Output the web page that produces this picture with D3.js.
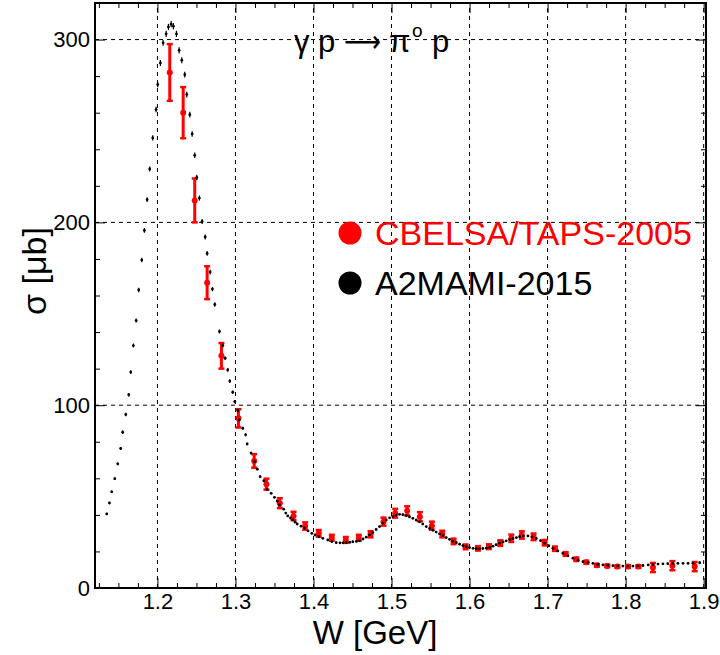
<!DOCTYPE html>
<html>
<head>
<meta charset="utf-8">
<script src="https://cdn.jsdelivr.net/npm/d3@7"></script>
<style>
  body { margin: 0; background: #fff; }
  svg { display: block; font-family: "Liberation Sans", Arial, sans-serif; }
</style>
</head>
<body>
<svg id="chart" width="720" height="655"></svg>
<script>
// A2MAMI-2015 (black)
const mamiW = [
  1.135, 1.1385, 1.1414, 1.1453, 1.1491, 1.1529, 1.1555, 1.1594, 1.1632, 1.1658,
  1.1692, 1.1727, 1.176, 1.1799, 1.1833, 1.1868, 1.1901, 1.194, 1.1983, 1.2004,
  1.2038, 1.2073, 1.2112, 1.2141, 1.2176, 1.2205, 1.2244, 1.2278, 1.2312, 1.235,
  1.2376, 1.2415, 1.2445, 1.2478, 1.2504, 1.2538, 1.2573, 1.2612, 1.2637, 1.2676,
  1.2705, 1.2735, 1.2795, 1.2838, 1.2868, 1.2901, 1.2927, 1.2965, 1.2991, 1.3029,
  1.305, 1.3094, 1.313, 1.315, 1.32, 1.3244, 1.328, 1.3317, 1.3363, 1.3406,
  1.3458, 1.35, 1.3535, 1.3564, 1.3619, 1.3645, 1.367, 1.3705, 1.3735, 1.3765,
  1.3791, 1.384, 1.3885, 1.393, 1.3978, 1.402, 1.4068, 1.412, 1.4183, 1.4235,
  1.4291, 1.434, 1.438, 1.442, 1.4465, 1.4504, 1.455, 1.459, 1.4635, 1.4676,
  1.4718, 1.476, 1.4803, 1.4846, 1.489, 1.4932, 1.4975, 1.5017, 1.506, 1.5103,
  1.5145, 1.5188, 1.523, 1.5273, 1.5316, 1.5359, 1.54, 1.5445, 1.5488, 1.553,
  1.5572, 1.5615, 1.566, 1.5701, 1.5743, 1.5786, 1.583, 1.5872, 1.5915, 1.5958,
  1.6, 1.6045, 1.6085, 1.6128, 1.617, 1.6215, 1.6256, 1.63, 1.634, 1.6385,
  1.643, 1.647, 1.6513, 1.6555, 1.66, 1.6641, 1.669, 1.6748, 1.68, 1.6855,
  1.691, 1.6962, 1.7015, 1.7068, 1.713, 1.7196, 1.726, 1.7324, 1.739, 1.7453,
  1.752, 1.7581, 1.7645, 1.7709, 1.7773, 1.7837, 1.79, 1.7965, 1.803, 1.8094,
  1.8158, 1.8222, 1.829, 1.835, 1.8415, 1.8478, 1.854, 1.8606, 1.867, 1.8735,
  1.88, 1.8863, 1.8949
];
const mamiSigma = [
  40.5, 46.5, 52.6, 59.8, 67.9, 76.3, 85.2, 94.9, 105.7, 118.1,
  132.6, 146.3, 163.0, 179.4, 195.6, 212.4, 229.2, 246.2, 261.7, 275.4,
  287.2, 298.2, 303.1, 306.9, 308.4, 307.3, 303.1, 294.1, 288.7, 280.8,
  269.9, 258.9, 248.4, 236.7, 224.6, 213.3, 200.5, 192.0, 183.0, 172.8,
  163.5, 155.1, 140.3, 132.6, 125.7, 119.3, 113.2, 107.1, 102.0, 97.1,
  92.0, 87.4, 83.8, 78.8, 73.8, 69.1, 65.0, 60.9, 58.6, 54.0,
  51.8, 49.6, 47.6, 45.4, 43.1, 41.0, 39.4, 38.3, 37.2, 36.0,
  35.0, 33.8, 32.7, 31.2, 29.9, 29.0, 28.1, 27.2, 26.3, 25.4,
  24.8, 24.7, 24.7, 24.8, 25.0, 25.3, 25.5, 25.8, 26.8, 27.8,
  29.0, 30.3, 32.0, 33.6, 35.5, 37.2, 38.4, 39.0, 39.8, 40.3,
  40.1, 39.6, 38.9, 38.1, 37.2, 36.2, 35.0, 33.6, 32.6, 31.6,
  30.6, 29.6, 28.6, 27.6, 26.6, 25.6, 24.8, 24.0, 23.2, 22.6,
  22.1, 21.7, 21.5, 21.4, 21.6, 21.8, 22.2, 22.9, 23.7, 24.5,
  25.2, 25.8, 26.4, 27.0, 27.6, 28.1, 28.4, 28.5, 28.0, 27.1,
  25.9, 24.5, 23.1, 21.7, 20.3, 19.0, 17.6, 16.3, 15.2, 14.4,
  13.9, 13.5, 13.0, 12.6, 12.4, 12.2, 12.1, 12.0, 12.0, 12.0,
  12.1, 12.3, 12.6, 12.9, 13.1, 13.2, 13.3, 13.4, 13.5, 13.5,
  13.5, 13.6, 13.8
];
const mamiErr = [
  0.6, 0.6, 0.7, 0.7, 0.8, 0.8, 0.9, 0.9, 1.0, 1.0,
  1.1, 1.1, 1.2, 1.2, 1.3, 1.3, 1.4, 1.4, 1.5, 1.5,
  1.6, 1.6, 1.7, 1.7, 1.7, 1.7, 1.7, 1.7, 1.6, 1.6,
  1.6, 1.6, 1.5, 1.5, 1.5, 1.4, 1.4, 1.4, 1.3, 1.3,
  1.2, 1.2, 1.1, 1.1, 1.0, 1.0, 1.0, 0.9, 0.9, 0.9,
  0.8, 0.8, 0.8, 0.7, 0.7, 0.7, 0.6, 0.6, 0.6, 0.6,
  0.5, 0.5, 0.5, 0.5, 0.5, 0.5, 0.5, 0.5, 0.5, 0.5,
  0.5, 0.5, 0.5, 0.5, 0.5, 0.5, 0.5, 0.5, 0.5, 0.5,
  0.5, 0.5, 0.5, 0.5, 0.5, 0.5, 0.5, 0.5, 0.5, 0.5,
  0.5, 0.5, 0.5, 0.5, 0.5, 0.5, 0.5, 0.5, 0.5, 0.5,
  0.5, 0.5, 0.5, 0.5, 0.5, 0.5, 0.5, 0.5, 0.5, 0.5,
  0.5, 0.5, 0.5, 0.5, 0.5, 0.5, 0.5, 0.5, 0.5, 0.5,
  0.5, 0.5, 0.5, 0.5, 0.5, 0.5, 0.5, 0.5, 0.5, 0.5,
  0.5, 0.5, 0.5, 0.5, 0.5, 0.5, 0.5, 0.5, 0.5, 0.5,
  0.5, 0.5, 0.5, 0.5, 0.5, 0.5, 0.5, 0.5, 0.5, 0.5,
  0.5, 0.5, 0.5, 0.5, 0.5, 0.5, 0.5, 0.5, 0.5, 0.5,
  0.5, 0.5, 0.5, 0.5, 0.5, 0.5, 0.5, 0.5, 0.5, 0.5,
  0.5, 0.5, 0.5
];

// CBELSA/TAPS-2005 (red)
const cbW = [
  1.2158, 1.233, 1.2478, 1.2637, 1.282, 1.3038, 1.324, 1.3397, 1.3568, 1.3744,
  1.3893, 1.4068, 1.4235, 1.4414, 1.4581, 1.4731, 1.4897, 1.5047, 1.52, 1.5363,
  1.5517, 1.565, 1.5795, 1.5949, 1.6107, 1.6248, 1.6393, 1.6535, 1.667, 1.682,
  1.6962, 1.7094, 1.7231, 1.7368, 1.7496, 1.7632, 1.7765, 1.7894, 1.803, 1.8163,
  1.835, 1.8599, 1.8885
];
const cbSigma = [
  282, 260, 212, 167, 127, 92.8, 69.5, 56.8, 46.4, 39.4,
  33.9, 29.9, 27.5, 26.3, 27.5, 29.4, 36.3, 40.9, 42.2, 39.0,
  34.1, 29.5, 25.5, 22.5, 21.7, 22.6, 24.6, 27.2, 29.0, 28.0,
  24.8, 21.5, 18.6, 15.7, 14.1, 12.4, 12.1, 11.7, 11.7, 11.7,
  11.2, 12.2, 11.7
];
const cbErr = [
  15.5, 14, 12, 9, 7, 5, 3.7, 3, 2.7, 2.3,
  2, 1.8, 1.6, 1.6, 1.6, 1.7, 2.2, 2.4, 2.5, 2.5,
  2.2, 1.8, 1.5, 1.3, 1.2, 1.3, 1.5, 2.0, 2.0, 1.8,
  1.5, 1.2, 1.0, 0.9, 0.8, 0.7, 0.7, 0.7, 0.7, 0.7,
  2.5, 2.5, 2.5
];

const xTicks = [1.2, 1.3, 1.4, 1.5, 1.6, 1.7, 1.8, 1.9];
const yTicks = [0, 100, 200, 300];
const legendLabels = ["CBELSA/TAPS-2005", "A2MAMI-2015"];
const legendColors = ["#ff0000", "#000000"];

const pLeft = 95, pRight = 706, pTop = 3, pBottom = 588;
const x = d3.scaleLinear().domain([1.12, 1.903]).range([pLeft, pRight]);
const y = d3.scaleLinear().domain([0, 320]).range([pBottom, pTop]);

const svg = d3.select("#chart");
svg.append("rect").attr("width", 720).attr("height", 655).attr("fill", "#fff");

// grid
const grid = svg.append("g").attr("stroke", "#000").attr("stroke-width", 1).attr("stroke-dasharray", "4,4");
xTicks.forEach((t) => {
  grid.append("line").attr("x1", x(t)).attr("x2", x(t)).attr("y1", pBottom).attr("y2", pTop);
});
yTicks.filter((t) => t > 0).forEach((t) => {
  grid.append("line").attr("x1", pLeft).attr("x2", pRight).attr("y1", y(t)).attr("y2", y(t));
});

// axes: major + minor ticks on all four sides
const xMinor = d3.range(1.125, 1.9001, 0.025).filter((v) => !xTicks.some((t) => Math.abs(t - v) < 1e-6));
const yMinor = d3.range(20, 320, 20).filter((v) => v % 100 !== 0);

function addAxis(axis, transform, labels) {
  const g = svg.append("g").attr("transform", transform).call(axis);
  g.select(".domain").remove();
  g.selectAll("line").attr("stroke-width", 1);
  if (!labels) g.selectAll("text").remove();
  return g;
}

const xb = addAxis(d3.axisBottom(x).tickValues(xTicks).tickSize(-10).tickPadding(5).tickFormat(d3.format(".1f")), `translate(0,${pBottom})`, true);
xb.selectAll("text").attr("font-size", 22).attr("fill", "#000");
addAxis(d3.axisBottom(x).tickValues(xMinor).tickSize(-5), `translate(0,${pBottom})`, false);
addAxis(d3.axisTop(x).tickValues(xTicks).tickSize(-10), `translate(0,${pTop})`, false);
addAxis(d3.axisTop(x).tickValues(xMinor).tickSize(-5), `translate(0,${pTop})`, false);

const yl = addAxis(d3.axisLeft(y).tickValues(yTicks).tickSize(-10).tickPadding(5), `translate(${pLeft},0)`, true);
yl.selectAll("text").attr("font-size", 22).attr("fill", "#000");
addAxis(d3.axisLeft(y).tickValues(yMinor).tickSize(-5), `translate(${pLeft},0)`, false);
addAxis(d3.axisRight(y).tickValues(yTicks).tickSize(-10), `translate(${pRight},0)`, false);
addAxis(d3.axisRight(y).tickValues(yMinor).tickSize(-5), `translate(${pRight},0)`, false);

// frame
svg.append("rect").attr("x", pLeft).attr("y", pTop).attr("width", pRight - pLeft).attr("height", pBottom - pTop)
  .attr("fill", "none").attr("stroke", "#000").attr("stroke-width", 2);

// CBELSA points
const cb = cbW.map((w, i) => ({ w, s: cbSigma[i], e: cbErr[i] }));
const red = svg.append("g").attr("stroke", "#ff0000").attr("fill", "#ff0000");
cb.forEach((d) => {
  const cx = x(d.w);
  red.append("line").attr("x1", cx).attr("x2", cx).attr("y1", y(d.s - d.e)).attr("y2", y(d.s + d.e)).attr("stroke-width", 3);
  [d.s - d.e, d.s + d.e].forEach((v) => {
    red.append("line").attr("x1", cx - 3).attr("x2", cx + 3).attr("y1", y(v)).attr("y2", y(v)).attr("stroke-width", 2.5);
  });
  red.append("circle").attr("cx", cx).attr("cy", y(d.s)).attr("r", 3).attr("stroke", "none");
});

// MAMI points
const mami = mamiW.map((w, i) => ({ w, s: mamiSigma[i], e: mamiErr[i] }));
const blk = svg.append("g").attr("stroke", "#000").attr("fill", "#000");
mami.forEach((d) => {
  const cx = x(d.w);
  blk.append("line").attr("x1", cx).attr("x2", cx).attr("y1", y(d.s - d.e)).attr("y2", y(d.s + d.e)).attr("stroke-width", 1.2);
  blk.append("circle").attr("cx", cx).attr("cy", y(d.s)).attr("r", 1.4).attr("stroke", "none");
});

// axis titles
svg.append("text").attr("x", 375).attr("y", 644).attr("text-anchor", "middle").attr("font-size", 33).text("W [GeV]");
svg.append("text").attr("transform", "translate(46,271) rotate(-90)").attr("text-anchor", "middle")
  .attr("font-size", 34).text("σ [μb]");

// reaction label (one text, superscript as tspan)
const title = svg.append("text").attr("y", 52).attr("font-size", 31);
title.append("tspan").attr("x", 294).text("γ");
title.append("tspan").attr("x", 318).text("p");
title.append("tspan").attr("x", 344).attr("font-family", "DejaVu Sans")
  .attr("textLength", 37).attr("lengthAdjust", "spacingAndGlyphs").text("⟶");
title.append("tspan").attr("x", 389).text("π");
title.append("tspan").attr("x", 412).attr("dy", -15).attr("font-size", 19).text("o");
title.append("tspan").attr("x", 432).attr("dy", 15).text("p");

// legend
const legend = svg.append("g");
legendLabels.forEach((lab, i) => {
  const ly = 233 + i * 50;
  legend.append("circle").attr("cx", 350).attr("cy", ly).attr("r", 11.5).attr("fill", legendColors[i]);
  legend.append("text").attr("x", 375).attr("y", ly + 12).attr("font-size", 34).attr("fill", legendColors[i]).text(lab);
});
</script>
</body>
</html>
